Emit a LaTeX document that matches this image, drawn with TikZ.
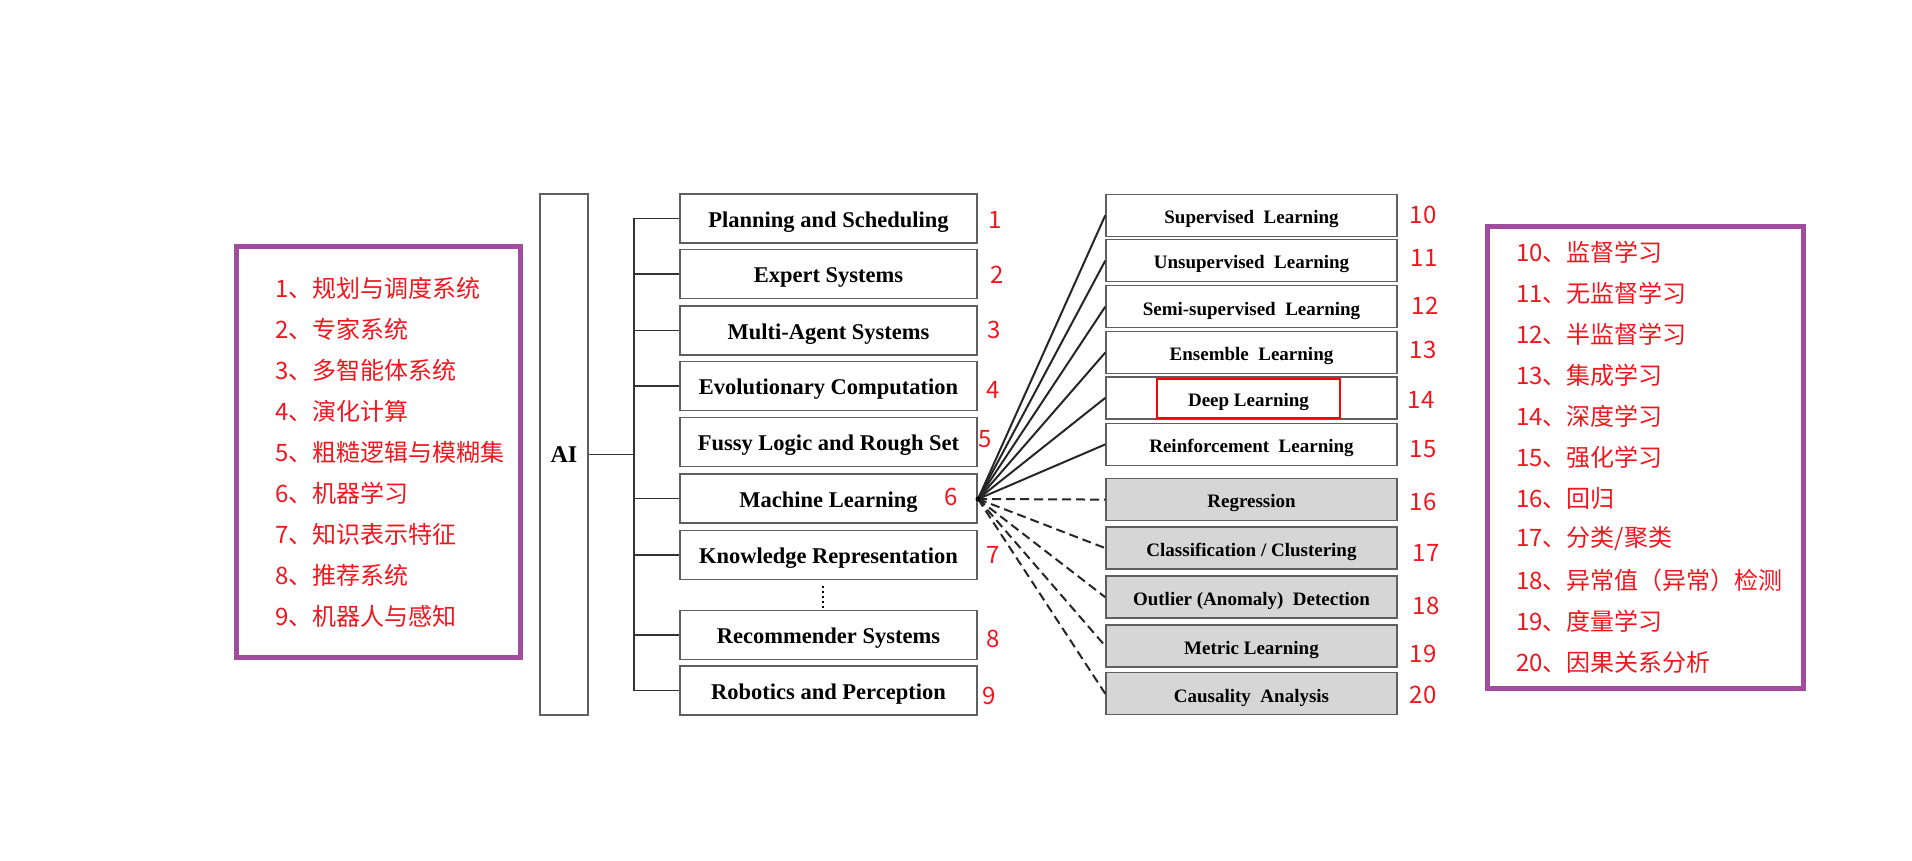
\documentclass[tikz,border=0pt]{standalone}
\usepackage{fontspec}
\setmainfont{Liberation Serif}
\newfontfamily\cjk{Noto Sans CJK SC}
\usepackage{tikz}
\definecolor{listpurple}{RGB}{162,76,160}
\definecolor{boxgray}{RGB}{95,95,95}
\definecolor{taskfill}{RGB}{214,214,214}
\definecolor{numred}{RGB}{240,22,30}

\begin{document}
\begin{tikzpicture}[x=1pt,y=-1pt,
        area/.style={shape=rectangle,draw=boxgray,line width=1.5pt,fill=white,minimum width=297pt,minimum height=49pt,inner sep=0pt,text height=17.6pt,text depth=0pt,font=\fontsize{22.5}{26}\selectfont\bfseries},
        task/.style={shape=rectangle,draw=boxgray,line width=1.5pt,fill=white,minimum width=291pt,minimum height=42pt,inner sep=0pt,text height=16.6pt,text depth=0pt,font=\fontsize{19}{22}\selectfont\bfseries},
        graytask/.style={task,fill=taskfill},
        num/.style={text=numred,font=\cjk\fontsize{24}{28}\selectfont,inner sep=0pt},
        listbox/.style={shape=rectangle,draw=listpurple,line width=5pt},
        listitem/.style={anchor=west,text=numred,font=\cjk\fontsize{24}{28}\selectfont,inner sep=0pt},
        tree/.style={draw=black!80,line width=1.5pt},
        fan/.style={draw=black!85,line width=2pt},
        fandash/.style={fan,dash pattern=on 9pt off 5pt}]
        \useasboundingbox (0,0) rectangle (1912,861);
        \node [listbox,minimum width=284pt,minimum height=411pt] (leftlist) at (378.5,452) {};
        \node [listbox,minimum width=316pt,minimum height=462pt] (rightlist) at (1645.5,457.5) {};
        \foreach \n/\t in {1/规划与调度系统,2/专家系统,3/多智能体系统,4/演化计算,5/粗糙逻辑与模糊集,6/机器学习,7/知识表示特征,8/推荐系统,9/机器人与感知}
            \node [listitem] (c\n) at (275,{288+41.1*(\n-1)}) {\n、\t};
        \foreach \n/\t in {10/监督学习,11/无监督学习,12/半监督学习,13/集成学习,14/深度学习,15/强化学习,16/回归,17/{分类/聚类},18/异常值（异常）检测,19/度量学习,20/因果关系分析}
            \node [listitem] (c\n) at (1516,{252+41*(\n-10)}) {\n、\t};
        \node [shape=rectangle,draw=boxgray,line width=1.5pt,minimum width=48pt,minimum height=521pt,inner sep=0pt,font=\fontsize{24}{28}\selectfont\bfseries] (ai) at (564,454.5) {AI};
        \node [area] (b1) at (828.5,218.5) {Planning and Scheduling};
        \node [area] (b2) at (828.5,274) {Expert Systems};
        \node [area] (b3) at (828.5,330.5) {Multi-Agent Systems};
        \node [area] (b4) at (828.5,386) {Evolutionary Computation};
        \node [area] (b5) at (828.5,442) {Fussy Logic and Rough Set};
        \node [area] (b6) at (828.5,498.5) {Machine Learning};
        \node [area] (b7) at (828.5,555) {Knowledge Representation};
        \node [area] (b8) at (828.5,635) {Recommender Systems};
        \node [area] (b9) at (828.5,690.5) {Robotics and Perception};
        \coordinate (trunk) at (634,455);
        \draw [tree] (ai.east) -- (ai.east -| trunk);
        \draw [tree] (b1.west) -- (b1.west -| trunk) -- (b9.west -| trunk) -- (b9.west);
        \foreach \i in {2,3,4,6,7,8}
            \draw [tree] (b\i.west) -- (b\i.west -| trunk);
        \draw [line width=2.2pt,dash pattern=on 2pt off 3pt] ([xshift=-5.5pt,yshift=-6pt]b7.south) -- ++(0,22);
        \node [task] (r10) at (1251.5,215.4) {Supervised\ \ Learning};
        \node [task] (r11) at (1251.5,260.7) {Unsupervised\ \ Learning};
        \node [task] (r12) at (1251.5,306.7) {Semi-supervised\ \ Learning};
        \node [task] (r13) at (1251.5,352.6) {Ensemble\ \ Learning};
        \node [task] (r14) at (1251.5,397.9) {};
        \node [shape=rectangle,draw=red,line width=2pt,minimum width=183pt,minimum height=38.5pt,inner sep=0pt,text height=16.6pt,text depth=0pt,font=\fontsize{19}{22}\selectfont\bfseries] (dl) at (1248.5,398.6) {Deep Learning};
        \node [task] (r15) at (1251.5,444.4) {Reinforcement\ \ Learning};
        \node [graytask] (r16) at (1251.5,499.6) {Regression};
        \node [graytask] (r17) at (1251.5,548.1) {Classification / Clustering};
        \node [graytask] (r18) at (1251.5,597.2) {Outlier (Anomaly)\ \ Detection};
        \node [graytask] (r19) at (1251.5,646) {Metric Learning};
        \node [graytask] (r20) at (1251.5,693.7) {Causality\ \ Analysis};
        \coordinate (hub) at (978,499);
        \foreach \i in {10,...,15}
            \draw [fan] (hub) -- (r\i.west);
        \foreach \i in {16,...,20}
            \draw [fandash] (hub) -- (r\i.west);
        \fill (hub) circle (2.5pt);
        \foreach \n/\x/\y in {1/995/219.6,2/997/274.7,3/994/330,4/993/389.5,5/985/438.6,6/951/496.5,7/993/554.7,8/993/638.6,9/989/695.8,10/1423/215,11/1424/257.9,12/1425/305.6,13/1423/350.2,14/1421/400,15/1423/449.5,16/1423/502,17/1426/552.6,18/1426/606.3,19/1423/654.4,20/1423/695.1}
            \node [num] (n\n) at (\x,\y) {\n};
    \end{tikzpicture}
\end{document}
